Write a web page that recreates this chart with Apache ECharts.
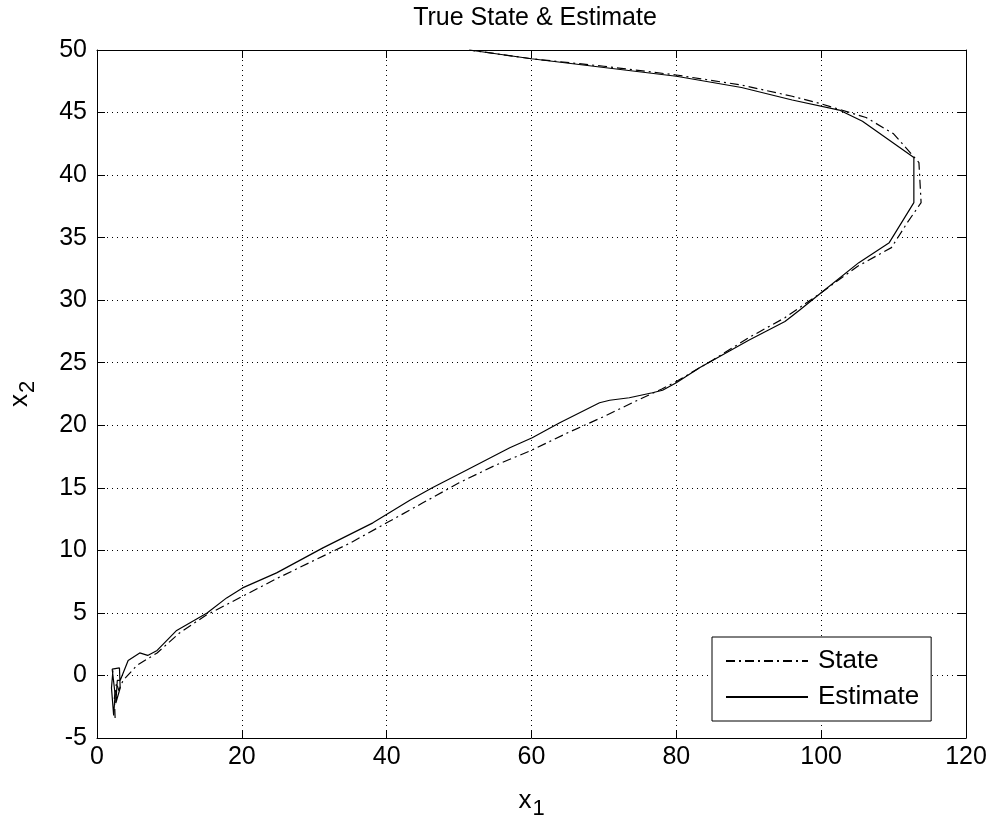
<!DOCTYPE html>
<html>
<head>
<meta charset="utf-8">
<script src="https://cdn.jsdelivr.net/npm/echarts@6/dist/echarts.min.js"></script>
<style>
  html, body { margin: 0; padding: 0; background: #fff; }
  #chart { width: 995px; height: 821px; }
</style>
</head>
<body>
<div id="chart"></div>
<script>
// true state trajectory (dash-dot)
const stateX = [2.5, 2.4, 2.7, 3.0, 3.6, 5.5, 8.3, 11.4, 15, 20, 25, 30, 35, 40, 45, 50, 55, 60, 65, 70, 75, 78, 80, 85, 90, 95, 100, 105, 109.7, 111.9, 113.8, 113.5, 110, 106.2, 100, 96, 89, 80, 70, 60, 51.4];
const stateY = [-3.4, -1.8, -0.6, -1.2, -0.4, 0.8, 1.8, 3.4, 4.8, 6.3, 7.8, 9.2, 10.6, 12.2, 13.8, 15.4, 16.8, 18.0, 19.4, 20.7, 22.1, 22.9, 23.5, 25.2, 27.0, 28.6, 30.6, 32.7, 34.2, 36.2, 37.8, 41.0, 43.3, 44.6, 45.7, 46.3, 47.2, 48.0, 48.7, 49.3, 50];

// estimate trajectory (solid)
const estX = [2.2, 2.0, 2.3, 2.5, 2.1, 3.1, 3.2, 2.6, 2.8, 3.2, 4.3, 5.9, 7.0, 8.3, 11.0, 12.8, 15.2, 17.9, 20.1, 24.8, 28, 31.2, 38.1, 43.2, 46.3, 51, 57, 60.1, 63.9, 69.4, 70.8, 73.5, 76.7, 78.1, 80, 83.2, 90, 95, 97, 100, 105.2, 109.4, 112.8, 112.8, 105.7, 102.5, 96, 89, 80, 70, 60, 51.4];
const estY = [0.4, -1.0, -3.2, -1.5, 0.5, 0.6, -1.0, -2.2, -0.4, -0.4, 1.2, 1.8, 1.6, 2.0, 3.6, 4.2, 5.0, 6.2, 7.0, 8.2, 9.2, 10.2, 12.2, 14.0, 15.0, 16.4, 18.2, 19.0, 20.2, 21.8, 22.0, 22.2, 22.6, 22.8, 23.4, 24.6, 26.8, 28.3, 29.2, 30.6, 33.0, 34.6, 37.8, 41.4, 44.3, 45.2, 46.0, 47.0, 47.9, 48.6, 49.3, 50];

const xTicks = [0, 20, 40, 60, 80, 100, 120];
const yTicks = [-5, 0, 5, 10, 15, 20, 25, 30, 35, 40, 45, 50];

const font = "Liberation Sans, Arial, sans-serif";

const chart = echarts.init(document.getElementById("chart"));

const pairs = (xs, ys) => xs.map((x, i) => [x, ys[i]]);

const gridLine = { show: true, lineStyle: { color: "#000", type: [1, 4], width: 1 } };
const tick = { show: true, inside: true, length: 8, lineStyle: { color: "#000" } };
const axLine = { show: true, onZero: false, lineStyle: { color: "#000", width: 1 } };
const subName = {
  rich: {
    b: { fontFamily: font, fontSize: 26, color: "#000" },
    s: { fontFamily: font, fontSize: 22, color: "#000", verticalAlign: "bottom", padding: [16, 0, 0, 1] }
  }
};

const option = {
  backgroundColor: "#fff",
  animation: false,
  title: {
    text: "True State & Estimate",
    left: 530,
    textAlign: "center",
    top: 1,
    textStyle: { fontFamily: font, fontSize: 25, fontWeight: "normal", color: "#000" }
  },
  grid: { left: 97, right: 29, top: 50, bottom: 83, containLabel: false, outerBoundsMode: "none" },
  legend: {
    left: 712,
    top: 637,
    orient: "vertical",
    itemWidth: 82,
    itemHeight: 14,
    itemGap: 8,
    padding: [10, 12, 10, 13],
    borderColor: "#000",
    borderWidth: 1,
    backgroundColor: "#fff",
    itemStyle: { opacity: 0 },
    textStyle: { fontFamily: font, fontSize: 26, color: "#000", lineHeight: 28, padding: [0, 0, 0, 5] },
    data: ["State", "Estimate"]
  },
  xAxis: [
    {
      type: "value",
      min: 0, max: 120, interval: 20,
      axisLine: axLine,
      axisTick: tick,
      splitLine: gridLine,
      axisLabel: { color: "#000", fontFamily: font, fontSize: 25, margin: 7,
        formatter: v => xTicks.includes(v) ? String(v) : "" },
      name: "{b|x}{s|1}",
      nameLocation: "middle",
      nameGap: 44,
      nameTextStyle: subName
    },
    {
      type: "value", position: "top",
      min: 0, max: 120, interval: 20,
      axisLine: axLine, axisTick: tick,
      axisLabel: { show: false }, splitLine: { show: false }
    }
  ],
  yAxis: [
    {
      type: "value",
      min: -5, max: 50, interval: 5,
      axisLine: axLine,
      axisTick: tick,
      splitLine: gridLine,
      axisLabel: { color: "#000", fontFamily: font, fontSize: 25, margin: 10,
        formatter: v => yTicks.includes(v) ? String(v) : "" },
      name: "{b|x}{s|2}",
      nameLocation: "middle",
      nameGap: 58,
      nameRotate: 90,
      nameTextStyle: subName
    },
    {
      type: "value", position: "right",
      min: -5, max: 50, interval: 5,
      axisLine: axLine, axisTick: tick,
      axisLabel: { show: false }, splitLine: { show: false }
    }
  ],
  series: [
    {
      name: "State",
      type: "line",
      data: pairs(stateX, stateY),
      showSymbol: false,
      symbol: "none",
      lineStyle: { color: "#000", width: 1.2, type: [9, 4, 2, 4] },
      itemStyle: { color: "#000" },
      z: 3
    },
    {
      name: "Estimate",
      type: "line",
      data: pairs(estX, estY),
      showSymbol: false,
      symbol: "none",
      lineStyle: { color: "#000", width: 1.2 },
      itemStyle: { color: "#000" },
      z: 4
    }
  ]
};

chart.setOption(option);
</script>
</body>
</html>
